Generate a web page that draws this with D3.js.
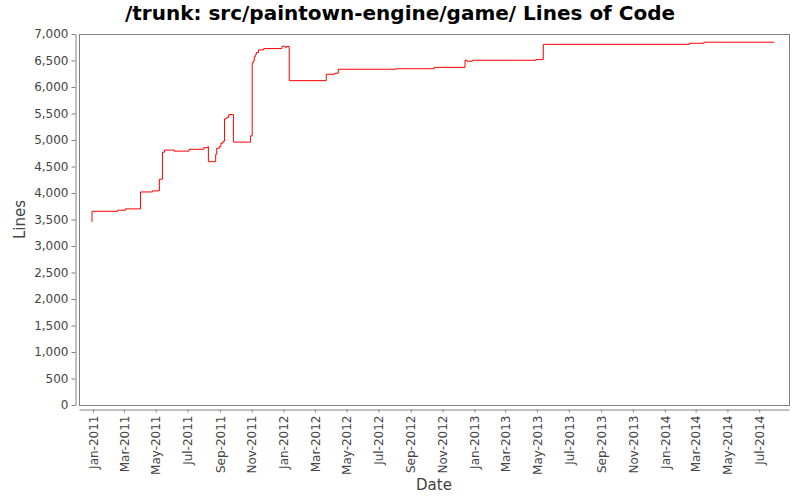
<!DOCTYPE html>
<html>
<head>
<meta charset="utf-8">
<script src="https://cdn.jsdelivr.net/npm/d3@7"></script>
<style>
  body { margin: 0; background: #fff; }
</style>
</head>
<body>
<script>
// commit dates and line counts
const dates = [
  "2010-12-29", "2010-12-30", "2011-02-17", "2011-03-04", "2011-04-02", "2011-04-25",
  "2011-05-08", "2011-05-14", "2011-05-18", "2011-06-05", "2011-07-04", "2011-08-01",
  "2011-08-09", "2011-08-10", "2011-08-24", "2011-08-26", "2011-08-31", "2011-09-03",
  "2011-09-07", "2011-09-10", "2011-09-13", "2011-09-15", "2011-09-18", "2011-09-27",
  "2011-10-30", "2011-11-02", "2011-11-04", "2011-11-06", "2011-11-08", "2011-11-10",
  "2011-11-14", "2011-11-24", "2011-12-29", "2012-01-04", "2012-01-07", "2012-01-12",
  "2012-03-23", "2012-04-08", "2012-04-15", "2012-08-04", "2012-10-16", "2012-12-14",
  "2012-12-18", "2012-12-28", "2013-04-29", "2013-05-13", "2014-02-17", "2014-03-17",
  "2014-07-30"
];
const lines = [
  3460, 3655, 3675, 3700, 4020, 4040,
  4260, 4770, 4810, 4790, 4825, 4855,
  4875, 4590, 4730, 4845, 4875, 4940,
  4975, 5400, 5410, 5430, 5480, 4960,
  5080, 6450, 6490, 6570, 6610, 6650,
  6700, 6725, 6770, 6750, 6765, 6120,
  6240, 6260, 6335, 6345, 6370, 6505,
  6485, 6505, 6520, 6805, 6825, 6845,
  6845
];
const dateDomain = ["2010-12-05", "2014-08-27"];
const yTicks = [0, 500, 1000, 1500, 2000, 2500, 3000, 3500, 4000, 4500, 5000, 5500, 6000, 6500, 7000];

const title = "/trunk: src/paintown-engine/game/ Lines of Code";
const width = 800;
const height = 500;
const plot = { left: 79, right: 789, top: 34, bottom: 405 };
const font = "'DejaVu Sans', Verdana, sans-serif";
const gray = "#808080";
const labelColor = "#444444";

const parse = d3.timeParse("%Y-%m-%d");
const data = dates.map((d, i) => ({ date: parse(d), value: lines[i] }));

const svg = d3.select("body")
  .append("svg")
  .attr("width", width)
  .attr("height", height);

svg.append("rect").attr("width", width).attr("height", height).attr("fill", "#fff");

svg.append("text")
  .attr("x", width / 2)
  .attr("y", 20)
  .attr("text-anchor", "middle")
  .attr("font-family", font)
  .attr("font-size", 20)
  .attr("font-weight", "bold")
  .attr("fill", "#000")
  .text(title);

const x = d3.scaleTime()
  .domain(dateDomain.map(parse))
  .range([plot.left, plot.right]);

const y = d3.scaleLinear()
  .domain([0, 7000])
  .range([plot.bottom, plot.top]);

// plot outline
svg.append("rect")
  .attr("x", plot.left + 0.5)
  .attr("y", plot.top + 0.5)
  .attr("width", plot.right - plot.left)
  .attr("height", plot.bottom - plot.top)
  .attr("fill", "none")
  .attr("stroke", gray);

// y axis, offset 4px left of the plot
svg.append("g")
  .attr("transform", `translate(${plot.left - 3.5},0)`)
  .call(d3.axisLeft(y).tickValues(yTicks).tickFormat(d3.format(",")).tickSize(4).tickSizeOuter(0).tickPadding(3))
  .call((g) => g.select(".domain").attr("stroke", gray))
  .call((g) => g.selectAll(".tick line").attr("stroke", gray))
  .call((g) => g.selectAll("text")
    .attr("fill", labelColor)
    .attr("font-family", font)
    .attr("font-size", 12));

// x axis, offset 4px below the plot
svg.append("g")
  .attr("transform", `translate(0,${plot.bottom + 4.5})`)
  .call(d3.axisBottom(x).ticks(d3.timeMonth.every(2)).tickFormat(d3.timeFormat("%b-%Y")).tickSize(3).tickSizeOuter(0))
  .call((g) => g.select(".domain").attr("stroke", gray))
  .call((g) => g.selectAll(".tick line").attr("stroke", gray))
  .call((g) => g.selectAll("text")
    .attr("fill", labelColor)
    .attr("font-family", font)
    .attr("font-size", 12)
    .attr("text-anchor", "end")
    .attr("transform", "rotate(-90)")
    .attr("x", -6)
    .attr("y", 0)
    .attr("dy", "0.35em"));

svg.append("text")
  .attr("x", (plot.left + plot.right) / 2)
  .attr("y", 490)
  .attr("text-anchor", "middle")
  .attr("font-family", font)
  .attr("font-size", 15)
  .attr("fill", labelColor)
  .text("Date");

svg.append("text")
  .attr("transform", `translate(25,${(plot.top + plot.bottom) / 2}) rotate(-90)`)
  .attr("text-anchor", "middle")
  .attr("font-family", font)
  .attr("font-size", 15)
  .attr("fill", labelColor)
  .text("Lines");

const line = d3.line()
  .x((d) => x(d.date))
  .y((d) => y(d.value))
  .curve(d3.curveStepAfter);

svg.append("path")
  .datum(data)
  .attr("fill", "none")
  .attr("stroke", "#ff0000")
  .attr("stroke-width", 1)
  .attr("d", line);
</script>
</body>
</html>
